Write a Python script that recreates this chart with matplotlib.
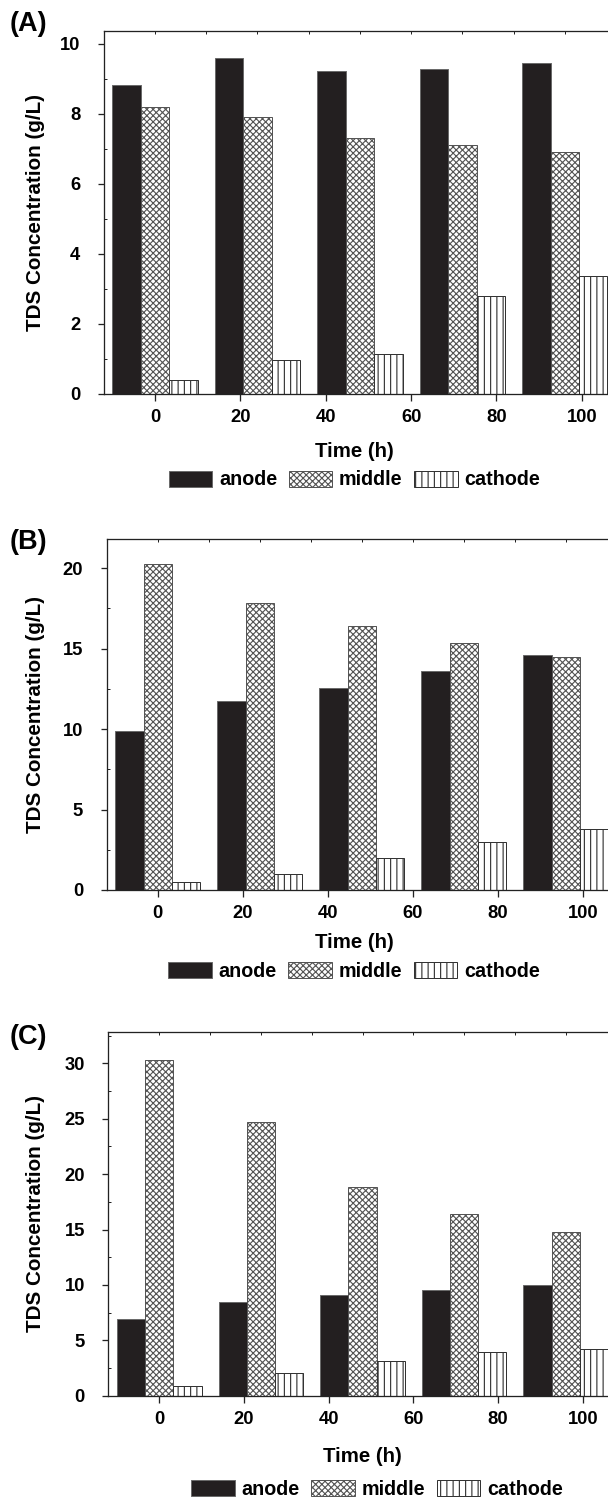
import matplotlib
matplotlib.use("Agg")
import matplotlib.pyplot as plt
from matplotlib.ticker import MultipleLocator

W, H, DPI = 609, 1498, 150

TIMES = [0, 24, 48, 72, 96]
SERIES = ["anode", "middle", "cathode"]

A_ANODE = [8.83, 9.59, 9.21, 9.27, 9.44]
A_MIDDLE = [8.20, 7.89, 7.30, 7.10, 6.90]
A_CATHODE = [0.38, 0.95, 1.12, 2.80, 3.35]

B_ANODE = [9.85, 11.71, 12.55, 13.58, 14.60]
B_MIDDLE = [20.25, 17.80, 16.40, 15.34, 14.47]
B_CATHODE = [0.50, 1.00, 2.00, 3.00, 3.80]

C_ANODE = [6.90, 8.46, 9.10, 9.55, 10.00]
C_MIDDLE = [30.30, 24.67, 18.88, 16.38, 14.82]
C_CATHODE = [0.88, 2.02, 3.13, 3.95, 4.22]

X_TICKS = [0, 20, 40, 60, 80, 100]

plt.rcParams["font.family"] = ["Liberation Sans", "DejaVu Sans"]
plt.rcParams["font.weight"] = "bold"
plt.rcParams["hatch.linewidth"] = 0.55
plt.rcParams["hatch.color"] = "#1a1a1a"

BAR_W = 20 / 3
STYLES = [
    dict(facecolor="#231f20", edgecolor="#6a6a6a", hatch=None),
    dict(facecolor="white", edgecolor="#555555", hatch="xxxxxxxx"),
    dict(facecolor="white", edgecolor="#333333", hatch="||||"),
]


def px(p):
    return p * 72 / DPI


def draw_panel(fig, letter, values, box, ymax, ymajor, yminor,
               xlabel_px, legend_px, letter_px):
    left, top, right, bottom = box
    ax = fig.add_axes([left / W, 1 - bottom / H, (right - left) / W, (bottom - top) / H])

    def to_ax(x, y):
        return (x - left) / (right - left), (bottom - y) / (bottom - top)

    for i, (name, vals) in enumerate(zip(SERIES, values)):
        st = STYLES[i]
        pos = [t + (i - 1) * BAR_W for t in TIMES]
        ax.bar(pos, vals, width=BAR_W, facecolor=st["facecolor"],
               edgecolor=st["edgecolor"], hatch=st["hatch"], linewidth=px(1.0),
               label=name, zorder=2)

    ax.set_xlim(-12, 108)
    ax.set_ylim(0, ymax)
    for s in ax.spines.values():
        s.set_linewidth(px(1.3))
        s.set_color("#222222")
    ax.spines["right"].set_visible(False)

    ax.set_xticks(X_TICKS)
    ax.xaxis.set_minor_locator(MultipleLocator(10))
    ax.yaxis.set_major_locator(MultipleLocator(ymajor))
    ax.yaxis.set_minor_locator(MultipleLocator(yminor))
    ax.tick_params(axis="both", which="major", direction="out", length=px(6.5),
                   width=px(1.3), labelsize=8.8, color="#222222")
    ax.tick_params(axis="y", which="major", pad=px(17))
    ax.tick_params(axis="x", which="major", pad=px(9))
    ax.tick_params(axis="both", which="minor", direction="in", length=px(3),
                   width=px(1.0), color="#222222")

    # top spine ticks every 12 h, pointing into the plot
    top_ax = ax.secondary_xaxis("top")
    top_ax.set_xticks(range(0, 109, 12))
    top_ax.tick_params(direction="in", length=px(3), width=px(1.0),
                       labeltop=False, color="#222222")
    top_ax.spines["top"].set_visible(False)

    ax.set_xlabel("Time (h)", fontsize=9.8, fontweight="bold")
    ax.xaxis.label.set_va("center")
    ax.xaxis.set_label_coords(*to_ax(*xlabel_px))

    ax.set_ylabel("TDS Concentration (g/L)", fontsize=9.9, fontweight="bold")
    ax.yaxis.label.set_va("center")
    ax.yaxis.set_label_coords(to_ax(36, 0)[0], 0.5)

    ax.legend(loc="center", bbox_to_anchor=to_ax(*legend_px), ncol=3,
              frameon=False, fontsize=9.5, handlelength=2.2, handleheight=0.85,
              handletextpad=0.33, columnspacing=0.6, borderpad=0, borderaxespad=0)

    fig.text(letter_px[0] / W, 1 - letter_px[1] / H, letter, fontsize=13,
             fontweight="bold", ha="left", va="center")
    return ax


fig = plt.figure(figsize=(W / DPI, H / DPI), dpi=DPI)

draw_panel(fig, "(A)", [A_ANODE, A_MIDDLE, A_CATHODE],
           (103.8, 31, 616, 393.7), 10.36, 2, 1,
           (354.6, 451.7), (354.5, 480), (10, 24))
draw_panel(fig, "(B)", [B_ANODE, B_MIDDLE, B_CATHODE],
           (106.7, 538.7, 616.7, 890), 21.82, 5, 2.5,
           (354.5, 943), (354, 971.5), (10, 542))
draw_panel(fig, "(C)", [C_ANODE, C_MIDDLE, C_CATHODE],
           (108.4, 1032.3, 616.6, 1395.7), 32.8, 5, 2.5,
           (362, 1456.7), (377, 1489.5), (10, 1037))

fig.savefig("out.png", dpi=DPI)
